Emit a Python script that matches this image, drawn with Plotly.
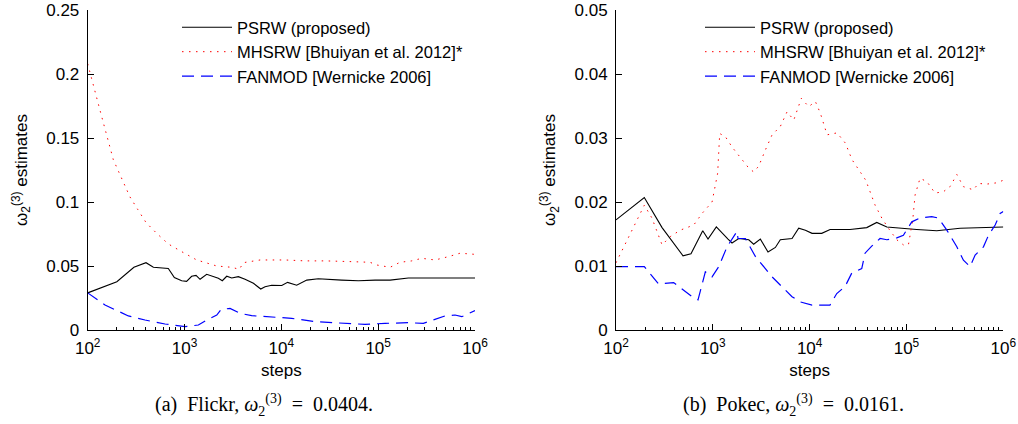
import plotly.graph_objects as go

# ---------------- data ----------------
# (a) Flickr
flickr_psrw_steps = [100, 200, 300, 400, 477, 680, 785, 935, 1050, 1185, 1315, 1447, 1694, 1985, 2235, 2456, 2728,
                     3070, 3597, 4217, 5146, 6124, 6790, 7943, 9306, 10100, 11600, 14400, 18300, 24100, 42000,
                     62500, 92900, 132800, 205000, 454000, 1000000]
flickr_psrw_vals = [0.029, 0.0377, 0.049, 0.0526, 0.049, 0.048, 0.041, 0.0385, 0.038, 0.042, 0.0427, 0.0396, 0.0435,
                    0.042, 0.0404, 0.0385, 0.042, 0.0406, 0.0417, 0.0396, 0.0365, 0.032, 0.0338, 0.035, 0.0346,
                    0.0348, 0.0372, 0.035, 0.039, 0.040, 0.039, 0.0385, 0.039, 0.039, 0.0406, 0.0404, 0.0406]

flickr_mhsrw_steps = [100, 119, 138, 184, 273, 328, 400, 516, 680, 935, 1336, 2150, 3070, 3680, 4055, 6030, 10900,
                      17600, 28300, 53300, 82400, 96600, 132800, 168000, 222000, 282000, 387000, 531000, 702000,
                      1000000]
flickr_mhsrw_vals = [0.208, 0.1875, 0.168, 0.133, 0.104, 0.0943, 0.084, 0.0755, 0.0672, 0.0612, 0.0547, 0.05, 0.049,
                     0.0474, 0.0526, 0.0547, 0.0547, 0.054, 0.054, 0.0534, 0.0529, 0.0508, 0.049, 0.0529, 0.054,
                     0.056, 0.0547, 0.0573, 0.06, 0.0591]

flickr_fanmod_steps = [100, 151, 263, 391, 629, 1012, 1390, 1694, 2153, 2384, 2950, 3740, 4940, 7943, 12800, 22300,
                       42100, 73100, 118000, 205000, 293000, 387000, 491000, 622000, 730000, 1000000]
flickr_fanmod_vals = [0.029, 0.0195, 0.011, 0.0078, 0.0047, 0.0026, 0.0039, 0.0078, 0.0117, 0.0161, 0.0169, 0.013,
                      0.0112, 0.0099, 0.0091, 0.0065, 0.0052, 0.0044, 0.0052, 0.0057, 0.0052, 0.0083, 0.011, 0.0117,
                      0.0104, 0.0151]

# (b) Pokec
pokec_psrw_steps = [100, 196, 299, 492, 595, 787, 892, 1087, 1436, 1578, 1852, 2350, 2642, 3097, 3715, 4426, 4977,
                    6577, 7709, 9036, 10590, 13330, 16260, 26120, 38900, 49300, 62700, 85900, 127600, 205600, 358000,
                    1000000]
pokec_psrw_vals = [0.0172, 0.0207, 0.016, 0.0116, 0.0119, 0.0155, 0.0142, 0.0161, 0.0142, 0.0136, 0.0143, 0.0141,
                   0.0134, 0.0142, 0.0122, 0.0129, 0.0141, 0.0143, 0.0159, 0.0156, 0.0151, 0.0151, 0.0157, 0.0157,
                   0.016, 0.0168, 0.0161, 0.0159, 0.0157, 0.0155, 0.0159, 0.0161]

pokec_mhsrw_steps = [100, 146, 196, 235, 299, 364, 461, 635, 773, 982, 1122, 1178, 1349, 1578, 2004, 2350, 2642,
                     2979, 3483, 4093, 4977, 5848, 6855, 8204, 9772, 11460, 12880, 15140, 19190, 23390, 27420,
                     32140, 38000, 47430, 55590, 65010, 79430, 92900, 104700, 116100, 122700, 138000, 162200,
                     197200, 240400, 281800, 331100, 387300, 490900, 553400, 676100, 857000, 1000000]
pokec_mhsrw_vals = [0.0105, 0.0156, 0.0195, 0.0175, 0.0133, 0.0146, 0.0156, 0.0164, 0.0182, 0.02, 0.0245, 0.0307,
                    0.0302, 0.0286, 0.0266, 0.0253, 0.0247, 0.0256, 0.0281, 0.0305, 0.0318, 0.0341, 0.0328, 0.0362,
                    0.0349, 0.0357, 0.0339, 0.0305, 0.0308, 0.0292, 0.0266, 0.025, 0.0234, 0.0195, 0.0175, 0.0159,
                    0.0141, 0.0133, 0.0133, 0.0172, 0.0211, 0.0237, 0.0232, 0.0214, 0.0216, 0.0224, 0.0243, 0.0224,
                    0.0219, 0.0229, 0.0228, 0.023, 0.0234]

pokec_fanmod_steps = [100, 196, 275, 394, 610, 703, 837, 982, 1151, 1403, 1778, 1820, 2168, 2748, 4093, 6577, 7962,
                      10590, 16220, 19050, 23230, 27230, 34510, 37330, 43750, 53330, 62660, 79430, 92900, 113500,
                      138000, 182400, 213800, 261200, 331100, 387300, 453900, 511700, 623700, 703100, 824100,
                      926800, 1000000]
pokec_fanmod_vals = [0.0099, 0.0099, 0.0072, 0.0074, 0.0052, 0.0047, 0.0091, 0.0083, 0.0099, 0.013, 0.0154, 0.0143,
                     0.0143, 0.0115, 0.0083, 0.0052, 0.0044, 0.0039, 0.0039, 0.0057, 0.0068, 0.0089, 0.0096, 0.012,
                     0.0131, 0.0143, 0.0141, 0.0144, 0.0148, 0.0169, 0.0175, 0.0177, 0.0175, 0.0156, 0.013, 0.0109,
                     0.0099, 0.0117, 0.013, 0.0148, 0.0164, 0.0182, 0.0185]

series_names = ["PSRW (proposed)", "MHSRW [Bhuiyan et al. 2012]*", "FANMOD [Wernicke 2006]"]
x_tick_vals = [100, 1000, 10000, 100000, 1000000]
x_tick_text = ["10<sup>2</sup>", "10<sup>3</sup>", "10<sup>4</sup>", "10<sup>5</sup>", "10<sup>6</sup>"]
left_y_ticks = [0, 0.05, 0.1, 0.15, 0.2, 0.25]
left_y_text = ["0", "0.05", "0.1", "0.15", "0.2", "0.25"]
right_y_ticks = [0, 0.01, 0.02, 0.03, 0.04, 0.05]
right_y_text = ["0", "0.01", "0.02", "0.03", "0.04", "0.05"]
captions = ["(a)  Flickr, <i>ω</i><sub>2</sub><sup>(3)</sup>  =  0.0404.",
            "(b)  Pokec, <i>ω</i><sub>2</sub><sup>(3)</sup>  =  0.0161."]

# ---------------- figure ----------------
W, H = 1018, 424
SANS = "Liberation Sans, Arial, sans-serif"
SERIF = "Liberation Serif, Times New Roman, serif"
FS = 17
LFS = 16.5

styles = [dict(color="black", width=1.1),
          dict(color="#ff0000", width=1, dash="1.5px,5.5px"),
          dict(color="#0000ff", width=1.2, dash="12px,7px")]

fig = go.Figure()
panels = [
    ([flickr_psrw_steps, flickr_mhsrw_steps, flickr_fanmod_steps],
     [flickr_psrw_vals, flickr_mhsrw_vals, flickr_fanmod_vals], "x", "y", "legend"),
    ([pokec_psrw_steps, pokec_mhsrw_steps, pokec_fanmod_steps],
     [pokec_psrw_vals, pokec_mhsrw_vals, pokec_fanmod_vals], "x2", "y2", "legend2"),
]
for steps_list, vals_list, xa, ya, lg in panels:
    for name, st, xs, ys in zip(series_names, styles, steps_list, vals_list):
        fig.add_trace(go.Scatter(x=xs, y=ys, mode="lines", name=name, line=st,
                                 xaxis=xa, yaxis=ya, legend=lg, showlegend=True))

minor_vals = [m * 10 ** e for e in range(2, 6) for m in range(2, 10)]

def xaxis(domain, anchor):
    return dict(domain=domain, anchor=anchor, type="log", range=[2, 6], automargin=False,
                tickmode="array", tickvals=x_tick_vals, ticktext=x_tick_text,
                ticks="inside", ticklen=6, tickwidth=1, tickcolor="black", ticklabelstandoff=3,
                minor=dict(tickmode="array", tickvals=minor_vals, ticks="inside", ticklen=3,
                           tickwidth=1, tickcolor="black"),
                showline=True, linecolor="black", linewidth=1, showgrid=False, zeroline=False,
                tickfont=dict(family=SANS, size=FS, color="black"),
                title=dict(text="steps", font=dict(family=SANS, size=FS, color="black"), standoff=6))

def yaxis(domain, anchor, rng, tv, tt):
    return dict(domain=domain, anchor=anchor, range=rng, tickmode="array", tickvals=tv, ticktext=tt,
                automargin=False,
                ticks="inside", ticklen=6, tickwidth=1, tickcolor="black", ticklabelstandoff=4,
                showline=True, linecolor="black", linewidth=1, showgrid=False, zeroline=False,
                tickfont=dict(family=SANS, size=FS, color="black"),
                title=dict(text="ω<sub>2</sub><sup>(3)</sup> estimates",
                           font=dict(family=SANS, size=FS, color="black"), standoff=14))

ydom = [(H - 330) / H, (H - 10) / H]
fig.update_layout(
    width=W, height=H, margin=dict(l=0, r=0, t=0, b=0, autoexpand=False),
    paper_bgcolor="white", plot_bgcolor="white",
    xaxis=xaxis([87.7 / W, 475 / W], "y"),
    yaxis=yaxis(ydom, "x", [0, 0.25], left_y_ticks, left_y_text),
    xaxis2=xaxis([616 / W, 1003.3 / W], "y2"),
    yaxis2=yaxis(ydom, "x2", [0, 0.05], right_y_ticks, right_y_text),
    legend=dict(x=177 / W, y=(H - 10) / H, xanchor="left", yanchor="top",
                font=dict(family=SANS, size=LFS, color="black"), bgcolor="rgba(0,0,0,0)",
                itemwidth=50, tracegroupgap=0),
    legend2=dict(x=700 / W, y=(H - 10) / H, xanchor="left", yanchor="top",
                 font=dict(family=SANS, size=LFS, color="black"), bgcolor="rgba(0,0,0,0)",
                 itemwidth=50, tracegroupgap=0),
    showlegend=True,
)

for cap, cx in zip(captions, [264, 793]):
    fig.add_annotation(text=cap, x=cx / W, y=(H - 405) / H, xref="paper", yref="paper",
                       xanchor="center", yanchor="middle", showarrow=False,
                       font=dict(family=SERIF, size=20, color="black"))

fig.write_html("out.html")
